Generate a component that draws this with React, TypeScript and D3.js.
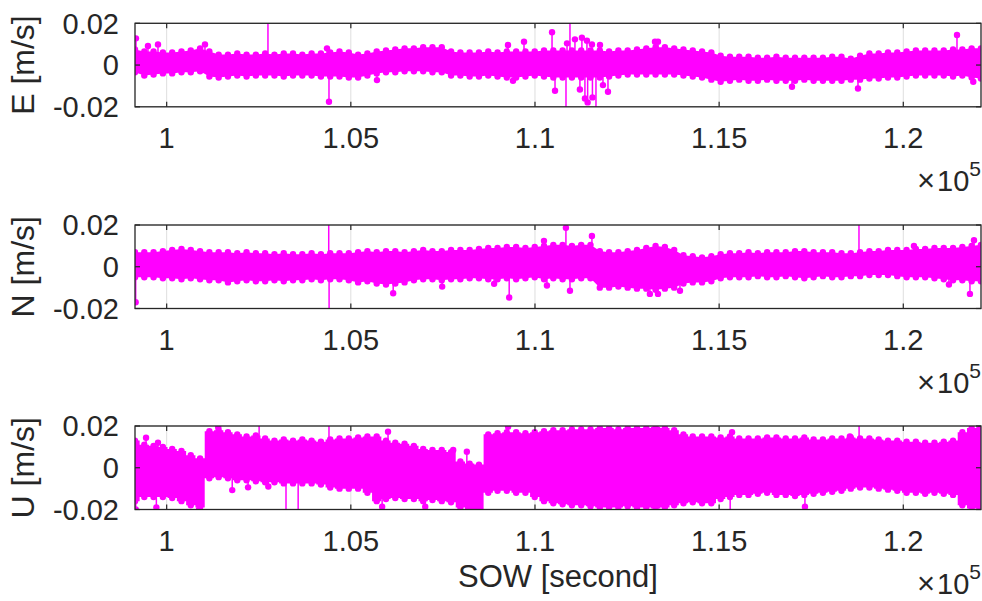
import React from 'react';
import * as d3 from 'd3';

// ---------- data (values in mm/s) ----------
const SOW_DOMAIN = [99140, 122110];
const SAMPLE_START = 99140;
const SAMPLE_STEP = 252.4;
const X_TICKS = [100000, 105000, 110000, 115000, 120000];
const X_TICK_LABELS = ['1', '1.05', '1.1', '1.15', '1.2'];
const Y_TICKS = [-0.02, 0, 0.02];
const Y_TICK_LABELS = ['-0.02', '0', '0.02'];
const PANEL_LABELS = ['E [m/s]', 'N [m/s]', 'U [m/s]'];

// dense-band envelope (upper / lower extent of the stems) per sample
const E_UP = [7.5,6.5,6.5,6,6,6.5,7,8,6.5,5, 5,5.5,5,5,5.5,5,5.5,5.5,5,5.5, 5.5,6,6.5,6,5,5.5,6.5,7,7.5,8, 8,8.5,8.5,8.5,6.5,6,6,6,6.5,6, 6.5,6.5,6.5,6.5,7,7,7,7,7,7, 7,6.5,7,7,7.5,8,8.5,8.5,8,7.5, 7,6.5,6,4.5,4,4,4,3.5,3.5,4, 3.5,3.5,3.5,3.5,3.5,4,4,3,4.5,5.5, 5.5,6,6,6.5,7,7,7,7,7.5,7.5, 8,8];
const E_LO = [-3.5,-5,-4.5,-4,-4,-3.5,-3.5,-3,-5.5,-6, -5.5,-5,-5.5,-5,-5,-5,-5.5,-5,-5,-5, -5.5,-5.5,-5.5,-6,-6,-5,-4,-3.5,-3.5,-3, -3,-3,-3.5,-3.5,-5,-5,-5.5,-5.5,-5,-5.5, -6,-6,-5.5,-5,-5.5,-6,-6,-6,-6,-6, -6,-5.5,-5,-4.5,-4.5,-4.5,-4.5,-4.5,-4.5,-5, -5.5,-6,-7,-8,-7.5,-7,-7.5,-7.5,-7,-7.5, -7.5,-7.5,-7,-7.5,-7.5,-7.5,-7.5,-7,-7,-6.5, -6.5,-6,-6,-5.5,-5,-5,-5,-5,-5.5,-5, -6,-6.5];
const N_UP = [7,7,7,7.5,8,8.5,8,7.5,7,7, 7,6.5,7,6.5,6.5,6,6.5,6,6,6.5, 6,6.5,6.5,6.5,7,7.5,7,7.5,7.5,7, 7.5,8,7.5,7.5,8,8,8,8.5,9,9, 9.5,9.5,9,9.5,10,10.5,10.5,10,10.5,10.5, 7.5,7,7,7.5,8,9,10,9.5,8,5.5, 5,4.5,5,6,6.5,6.5,7,6.5,7,7, 7,7.5,7.5,7,7,7,6.5,6.5,7,7.5, 7.5,8,8,8,8.5,8.5,9,9,9,9.5, 10,10.5];
const N_LO = [-5,-5,-5,-5.5,-5.5,-6,-5.5,-6,-6.5,-6.5, -7.5,-7,-6.5,-7,-7,-6.5,-7,-6.5,-6.5,-6, -6.5,-6,-6,-6.5,-7.5,-7,-8,-8.5,-8,-7.5, -6.5,-6,-6,-6.5,-6,-6,-5.5,-5.5,-6,-6, -5.5,-6,-5.5,-5,-6,-5.5,-6,-6,-5.5,-5.5, -10,-10,-9.5,-10,-10.5,-10.5,-11,-10.5,-10,-8, -7.5,-7.5,-7,-5.5,-5,-5,-5,-4.5,-5,-5, -4.5,-5,-5.5,-5,-4.5,-5,-5,-4.5,-4.5,-4, -4,-4,-4.5,-5,-5,-5,-5.5,-6,-6.5,-6.5, -7,-7];
const U_UP = [13,11,10.5,10,9,8,6,4.5,17.5,18, 17,16,15,15.5,14,13,13.5,13,13.5,13, 12.5,13.5,14,14,14.5,15,15,13,12,11.5, 10.5,9,8.5,8.5,7.5,3,2,1.5,16,16.5, 17,17,16.5,17,17.5,18,18,18.5,18.5,18.5, 19,19,18.5,19,19,19,19.5,19,18,16, 15,15,15,14.5,15,14,14,14,14.5,14.5, 14,14,14.5,13.5,13.5,14,14,14.5,14,14, 13.5,13,13,12.5,12.5,12,12,12.5,13,17, 19,19.5];
const U_LO = [-16,-14,-14,-14,-14.5,-16,-18,-19,-5,-4.5, -5,-6,-6,-6.5,-7,-7,-7.5,-7.5,-7.5,-7.5, -8,-9.5,-10,-10,-10,-12,-16,-15,-14.5,-15, -15,-16,-15.5,-16,-16.5,-19,-20,-20,-12,-11, -11,-12,-12,-14,-16,-17,-17.5,-18,-18,-18.5, -19,-19,-19,-18.5,-19,-19,-19.5,-19,-18,-17, -16.5,-17,-17,-15,-14,-13,-13,-12.5,-12,-13, -13,-13.5,-13,-12.5,-12,-11.5,-11,-10,-9.5,-9.5, -10,-10.5,-11,-12,-12,-12.5,-12,-12.5,-13,-18, -19.5,-20];

// isolated stems sticking out of the band (SOW, mm/s); ±30 = beyond the axis
const E_OUT_T = [99166,99492,99764,101040,102750,104353,104407,105710,109267,109403,109702,110463,110544,110842,110870,110950,111085,111220,111274,111356,111411,111430,111547,111560,111656,111765,111846,111982,113258,113340,116978,118770,121458,121900];
const E_OUT_V = [12.8,9.1,9.9,9.9,30,8,-17.6,-7.2,9.6,-7.5,11.2,15.7,-12.3,-30,10.4,30,12.3,-11.7,13.1,-16,11.7,-17.9,9.9,-15.5,-30,9.6,-9.6,-12.8,11.2,11.2,-10.4,-11.2,14.4,-8];
const N_OUT_T = [99158,104400,104410,106150,107480,108890,109300,110244,110325,110840,110950,111546,113120,113340,113937,118797,120290,121240,121810,121920];
const N_OUT_V = [-17,30,-30,-12.7,-9.5,-8.2,-14.7,12.4,-9,18.7,-11.5,14.7,-13,-13,-11.5,30,10,-8.5,-13,12.7];
const U_OUT_T = [99160,99440,99720,99764,100880,101400,101780,102210,102510,102760,103240,103570,104407,105850,106010,107020,107780,108150,109270,115300,115350,117330,118550,118800];
const U_OUT_V = [-20,14.4,-19,12,-20,19.4,-10.7,-9.4,30,-9,-30,-30,30,-18.7,17.3,-18.7,8.5,7.7,19.7,-30,17,-18.7,15,30];

// ---------- layout ----------
const W = 982, H = 601;
const LEFT = 135, RIGHT = 981;
const PANEL_TOPS = [23.3, 225, 426];
const PANEL_H = 83.5;
const MAGENTA = '#ff00ff';
const INK = '#262626';
const FONT = '"Liberation Sans", Arial, Helvetica, sans-serif';

type PanelProps = { idx: number; up: number[]; lo: number[]; outT: number[]; outV: number[]; step?: boolean };

function Panel({ idx, up, lo, outT, outV, step }: PanelProps) {
  const top = PANEL_TOPS[idx];
  const bottom = top + PANEL_H;
  const x = d3.scaleLinear().domain(SOW_DOMAIN).range([LEFT, RIGHT]);
  const y = d3.scaleLinear().domain([-0.02, 0.02]).range([bottom, top]);
  const t = up.map((_, i) => SAMPLE_START + i * SAMPLE_STEP);
  const area = d3.area<number>()
    .x((_, i) => x(t[i]))
    .y0((_, i) => y(lo[i] / 1000))
    .y1((d) => y(d / 1000))
    .curve(step ? d3.curveStep : d3.curveLinear);
  const clipId = `clip${idx}`;
  const tick = 5;
  return (
    <g>
      <defs>
        <clipPath id={clipId}>
          <rect x={LEFT} y={top} width={RIGHT - LEFT} height={PANEL_H} />
        </clipPath>
      </defs>
      <rect x={LEFT} y={top} width={RIGHT - LEFT} height={PANEL_H} fill="#fff" />
      {/* grid */}
      {X_TICKS.map((v) => (
        <line key={'gx' + v} x1={x(v)} x2={x(v)} y1={top} y2={bottom} stroke="#dedede" strokeWidth={1} />
      ))}
      {Y_TICKS.map((v) => (
        <line key={'gy' + v} x1={LEFT} x2={RIGHT} y1={y(v)} y2={y(v)} stroke="#dedede" strokeWidth={1} />
      ))}
      <g clipPath={`url(#${clipId})`}>
        <path d={area(up) || ''} fill={MAGENTA} />
        {outT.map((tt, i) => (
          <line key={'ol' + i} x1={x(tt)} x2={x(tt)} y1={y(0)} y2={y(outV[i] / 1000)} stroke={MAGENTA} strokeWidth={1.5} />
        ))}
        {up.map((v, i) => (
          <circle key={'mu' + i} cx={x(t[i])} cy={y(v / 1000)} r={3.2} fill={MAGENTA} />
        ))}
        {lo.map((v, i) => (
          <circle key={'ml' + i} cx={x(t[i])} cy={y(v / 1000)} r={3.2} fill={MAGENTA} />
        ))}
        {outT.map((tt, i) => (
          <circle key={'om' + i} cx={x(tt)} cy={y(outV[i] / 1000)} r={3.2} fill={MAGENTA} />
        ))}
      </g>
      {/* ticks */}
      {X_TICKS.map((v) => (
        <g key={'tx' + v}>
          <line x1={x(v)} x2={x(v)} y1={top} y2={top + tick} stroke={INK} strokeWidth={1.2} />
          <line x1={x(v)} x2={x(v)} y1={bottom} y2={bottom - tick} stroke={INK} strokeWidth={1.2} />
        </g>
      ))}
      {Y_TICKS.map((v) => (
        <g key={'ty' + v}>
          <line x1={LEFT} x2={LEFT + tick} y1={y(v)} y2={y(v)} stroke={INK} strokeWidth={1.2} />
          <line x1={RIGHT} x2={RIGHT - tick} y1={y(v)} y2={y(v)} stroke={INK} strokeWidth={1.2} />
        </g>
      ))}
      <rect x={LEFT} y={top} width={RIGHT - LEFT} height={PANEL_H} fill="none" stroke={INK} strokeWidth={1.3} />
      {/* tick labels */}
      {X_TICKS.map((v, i) => (
        <text key={'lx' + v} x={x(v)} y={bottom + 41.5} textAnchor="middle" fontSize={29} fill={INK} fontFamily={FONT}>
          {X_TICK_LABELS[i]}
        </text>
      ))}
      {Y_TICKS.map((v, i) => (
        <text key={'ly' + v} x={119} y={y(v)} dy="0.36em" textAnchor="end" fontSize={29} fill={INK} fontFamily={FONT}>
          {Y_TICK_LABELS[i]}
        </text>
      ))}
      {/* exponent */}
      <text x={RIGHT} y={bottom + 84.5} textAnchor="end" fontSize={29} fill={INK} fontFamily={FONT}>
        <tspan fontSize={31} fontWeight={300}>×</tspan>
        <tspan dx={2}>10</tspan>
        <tspan fontSize={21} dy={-15}>5</tspan>
      </text>
      {/* y label */}
      <text
        transform={`translate(33.5,${(top + bottom) / 2}) rotate(-90)`}
        textAnchor="middle"
        fontSize={32}
        fill={INK}
        fontFamily={FONT}
      >
        {PANEL_LABELS[idx]}
      </text>
    </g>
  );
}

export default function App() {
  return (
    <svg width={W} height={H} style={{ position: 'absolute', left: 0, top: 0, background: '#fff' }}>
      <rect width={W} height={H} fill="#fff" />
      <Panel idx={0} up={E_UP} lo={E_LO} outT={E_OUT_T} outV={E_OUT_V} />
      <Panel idx={1} up={N_UP} lo={N_LO} outT={N_OUT_T} outV={N_OUT_V} />
      <Panel idx={2} up={U_UP} lo={U_LO} outT={U_OUT_T} outV={U_OUT_V} step />
      <text x={(LEFT + RIGHT) / 2} y={587} textAnchor="middle" fontSize={31} fill={INK} fontFamily={FONT}>
        SOW [second]
      </text>
    </svg>
  );
}
